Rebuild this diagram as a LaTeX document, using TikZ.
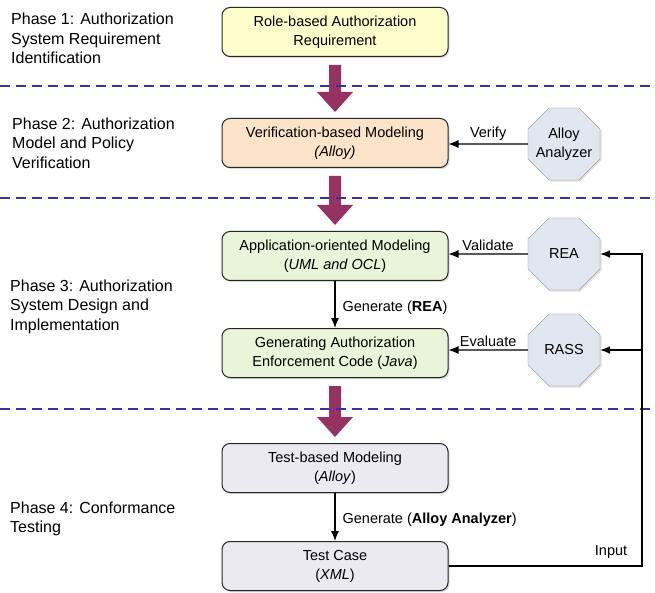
\documentclass[tikz,border=0pt]{standalone}
\usepackage{fontspec}
\setmainfont{Liberation Sans}
\usetikzlibrary{arrows.meta,positioning,shapes.geometric,shadows}
\definecolor{Yc}{HTML}{FFFDCB}
\definecolor{Oc}{HTML}{FCE3C9}
\definecolor{Gc}{HTML}{E9F5D8}
\definecolor{Pc}{HTML}{ECEAF1}
\definecolor{Bc}{HTML}{E1E7F1}
\definecolor{Mc}{HTML}{953262}
\definecolor{Dc}{HTML}{34349C}
\newcommand{\boxfont}{\fontsize{14.5}{19}\selectfont}
\newcommand{\phasefont}{\fontsize{16}{19.5}\selectfont}
\tikzset{
  stage/.style={rectangle, rounded corners=8pt, draw=black!85, line width=1pt,
    minimum width=226pt, minimum height=49pt, align=center, font=\boxfont,
    drop shadow={shadow xshift=1.5pt, shadow yshift=-1.5pt, opacity=0.3}},
  tool/.style={regular polygon, regular polygon sides=8, draw=black!45, fill=Bc,
    inner sep=-6pt, minimum size=78pt, align=center, font=\boxfont,
    drop shadow={shadow xshift=1.5pt, shadow yshift=-1.5pt, opacity=0.25}},
  phase/.style={anchor=north west, align=left, inner sep=0pt, font=\phasefont},
  sep/.style={Dc, dash pattern=on 10pt off 6pt, line width=1.1pt},
  link/.style={-{Latex[length=10pt,width=8pt]}, line width=1.2pt},
  lbl/.style={font=\boxfont, inner sep=3pt},
}
\newcommand{\phasearrow}[2]{% from node, to node
  \fill[Mc] ([xshift=-6pt,yshift=-8pt]#1.south) -- ([xshift=6pt,yshift=-8pt]#1.south)
    -- ([xshift=6pt,yshift=26pt]#2.north) -- ([xshift=18pt,yshift=26pt]#2.north)
    -- ([yshift=6pt]#2.north) -- ([xshift=-18pt,yshift=26pt]#2.north)
    -- ([xshift=-6pt,yshift=26pt]#2.north) -- cycle;}
\begin{document}
\begin{tikzpicture}[x=1pt, y=-1pt]
  \useasboundingbox (0,0) rectangle (655,593);
  % phase titles
  \node[phase] (p1) at (11,13) {Phase 1: Authorization\\System Requirement\\Identification};
  \node[phase] (p2) at (12,117.5) {Phase 2: Authorization\\Model and Policy\\Verification};
  \node[phase] (p3) at (10,279.5) {Phase 3: Authorization\\System Design and\\Implementation};
  \node[phase] (p4) at (10,501.5) {Phase 4: Conformance\\Testing};
  % stages
  \node[stage, fill=Yc] (rq) at (335,32) {Role-based Authorization\\Requirement};
  \node[stage, fill=Oc] (vm) at (335,143) {Verification-based Modeling\\\textit{(Alloy)}};
  \node[stage, fill=Gc] (am) at (335,256) {Application-oriented Modeling\\(\textit{UML and OCL})};
  \node[stage, fill=Gc] (ec) at (335,353) {Generating Authorization\\Enforcement Code (\textit{Java})};
  \node[stage, fill=Pc] (tm) at (335,468) {Test-based Modeling\\(\textit{Alloy})};
  \node[stage, fill=Pc] (tc) at (335,566) {Test Case\\(\textit{XML})};
  % tools
  \node[tool] (aa) at (564,144) {Alloy\\Analyzer};
  \node[tool] (rea) at (564,254) {REA};
  \node[tool] (rass) at (564,350) {RASS};
  \coordinate (fb) at (642,0);
  \phasearrow{rq}{vm}
  \phasearrow{vm}{am}
  \phasearrow{ec}{tm}
  \foreach \yy in {86,198,409} \draw[sep] (0,\yy) -- (655,\yy);
  \draw[link] (aa) -- node[lbl, above]{Verify} (aa -| vm.east);
  \draw[link] (rea) -- node[lbl, above]{Validate} (rea -| am.east);
  \draw[link] (rass) -- node[lbl, above]{Evaluate} (rass -| ec.east);
  \draw[link] (am) -- node[lbl, right=4pt, yshift=-3pt]{Generate (\textbf{REA})} (ec);
  \draw[link] (tm) -- node[lbl, right=4pt, yshift=-3pt]{Generate (\textbf{Alloy Analyzer})} (tc);
  \draw[link] (tc.east) -- node[lbl, above, pos=0.84, yshift=4pt]{Input} (tc.east -| fb) |- (rea.east);
  \draw[link] (fb |- rass.east) -- (rass.east);
\end{tikzpicture}
\end{document}
